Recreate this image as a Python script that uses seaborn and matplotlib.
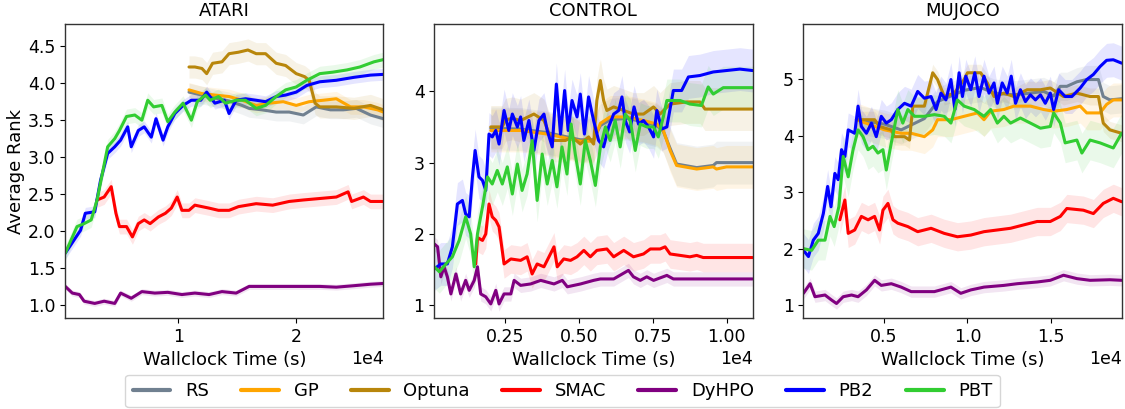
import matplotlib
matplotlib.use("Agg")
import matplotlib.pyplot as plt
from matplotlib.ticker import MultipleLocator
import numpy as np
import pandas as pd
import seaborn as sns

# ---------------------------------------------------------------------------
# Average rank over wallclock time (time in units of 1e4 s)
# ---------------------------------------------------------------------------
methods = ["RS", "GP", "Optuna", "SMAC", "DyHPO", "PB2", "PBT"]
colors = ["#708090", "orange", "darkgoldenrod", "red", "purple", "blue", "limegreen"]
panel_titles = ["ATARI", "CONTROL", "MUJOCO"]

# ---- ATARI ----
atari_rs_t = [1.09, 1.20, 1.31, 1.43, 1.54, 1.60, 1.71, 1.83, 1.94, 2.06, 2.17, 2.29, 2.40, 2.51, 2.63, 2.74]
atari_rs_y = [3.88, 3.84, 3.80, 3.76, 3.70, 3.66, 3.64, 3.61, 3.61, 3.57, 3.68, 3.64, 3.64, 3.66, 3.57, 3.52]
atari_gp_t = [1.09, 1.20, 1.31, 1.43, 1.54, 1.66, 1.77, 1.89, 2.00, 2.11, 2.23, 2.34, 2.46, 2.57, 2.69, 2.74]
atari_gp_y = [3.91, 3.86, 3.84, 3.82, 3.77, 3.70, 3.73, 3.75, 3.70, 3.75, 3.77, 3.79, 3.68, 3.68, 3.64, 3.61]
atari_optuna_t = [1.09, 1.14, 1.20, 1.24, 1.29, 1.37, 1.43, 1.51, 1.59, 1.66, 1.74, 1.83, 1.91, 2.00, 2.07,
                  2.11, 2.16, 2.20, 2.34, 2.49, 2.63, 2.74]
atari_optuna_y = [4.22, 4.22, 4.20, 4.13, 4.27, 4.29, 4.40, 4.42, 4.45, 4.40, 4.40, 4.27, 4.24, 4.13, 4.09,
                  4.04, 3.73, 3.68, 3.68, 3.66, 3.70, 3.64]
atari_smac_t = [0.31, 0.37, 0.43, 0.47, 0.50, 0.56, 0.61, 0.66, 0.71, 0.76, 0.83, 0.89, 0.94, 0.99, 1.03,
                1.09, 1.14, 1.20, 1.26, 1.34, 1.43, 1.51, 1.66, 1.80, 1.94, 2.06, 2.20, 2.34, 2.44, 2.47,
                2.57, 2.63, 2.74]
atari_smac_y = [2.42, 2.46, 2.60, 2.24, 2.06, 2.06, 1.92, 2.10, 2.15, 2.10, 2.19, 2.24, 2.31, 2.46, 2.28,
                2.28, 2.35, 2.33, 2.31, 2.28, 2.28, 2.33, 2.37, 2.35, 2.40, 2.42, 2.44, 2.46, 2.53, 2.40,
                2.46, 2.40, 2.40]
atari_dyhpo_t = [0.04, 0.10, 0.16, 0.20, 0.29, 0.37, 0.46, 0.51, 0.60, 0.69, 0.80, 0.91, 1.03, 1.14, 1.26,
                 1.37, 1.49, 1.60, 1.77, 1.91, 2.06, 2.20, 2.34, 2.49, 2.63, 2.74]
atari_dyhpo_y = [1.25, 1.16, 1.14, 1.05, 1.02, 1.05, 1.02, 1.16, 1.09, 1.18, 1.16, 1.17, 1.14, 1.16, 1.14,
                 1.18, 1.16, 1.25, 1.25, 1.25, 1.25, 1.25, 1.24, 1.26, 1.28, 1.29]
atari_pb2_t = [0.04, 0.17, 0.21, 0.29, 0.34, 0.40, 0.46, 0.51, 0.57, 0.60, 0.66, 0.71, 0.77, 0.81, 0.87,
               0.91, 0.97, 1.04, 1.11, 1.19, 1.24, 1.31, 1.39, 1.43, 1.49, 1.57, 1.66, 1.74, 1.83, 1.91,
               2.00, 2.09, 2.20, 2.34, 2.49, 2.63, 2.74]
atari_pb2_y = [1.70, 2.01, 2.24, 2.26, 2.69, 3.05, 3.14, 3.23, 3.41, 3.14, 3.36, 3.41, 3.27, 3.52, 3.23,
               3.41, 3.59, 3.70, 3.77, 3.77, 3.88, 3.73, 3.77, 3.59, 3.77, 3.79, 3.77, 3.75, 3.82, 3.84,
               3.88, 3.97, 4.02, 4.04, 4.08, 4.11, 4.12]
atari_pbt_t = [0.04, 0.14, 0.20, 0.26, 0.31, 0.36, 0.40, 0.46, 0.50, 0.56, 0.63, 0.69, 0.74, 0.79, 0.86,
               0.91, 0.97, 1.04, 1.11, 1.16, 1.23, 1.27, 1.34, 1.40, 1.49, 1.57, 1.66, 1.74, 1.83, 1.91,
               2.00, 2.09, 2.20, 2.31, 2.43, 2.54, 2.66, 2.74]
atari_pbt_y = [1.70, 2.06, 2.10, 2.15, 2.42, 2.82, 3.14, 3.25, 3.36, 3.55, 3.57, 3.50, 3.77, 3.68, 3.70,
               3.48, 3.61, 3.73, 3.50, 3.75, 3.84, 3.77, 3.82, 3.73, 3.77, 3.77, 3.66, 3.70, 3.82, 3.91,
               3.95, 4.04, 4.13, 4.15, 4.18, 4.22, 4.29, 4.32]

# ---- CONTROL ----
control_rs_t = [0.202, 0.303, 0.393, 0.505, 0.550, 0.573, 0.606, 0.663, 0.719, 0.764, 0.786, 0.809, 0.831,
                0.899, 0.955, 0.966, 1.000, 1.088]
control_rs_y = [3.48, 3.47, 3.42, 3.32, 3.32, 3.52, 3.60, 3.62, 3.57, 3.52, 3.44, 3.20, 2.98,
                2.93, 2.96, 3.00, 3.00, 3.00]
control_gp_t = [0.202, 0.303, 0.393, 0.505, 0.550, 0.573, 0.606, 0.663, 0.719, 0.764, 0.786, 0.809, 0.831,
                0.899, 0.955, 0.966, 1.000, 1.088]
control_gp_y = [3.45, 3.45, 3.40, 3.30, 3.30, 3.55, 3.64, 3.64, 3.59, 3.54, 3.45, 3.17, 2.96,
                2.91, 2.94, 2.91, 2.94, 2.94]
control_optuna_t = [0.202, 0.241, 0.252, 0.275, 0.303, 0.348, 0.382, 0.404, 0.416, 0.455, 0.477, 0.505,
                    0.533, 0.550, 0.561, 0.573, 0.584, 0.595, 0.618, 0.652, 0.685, 0.719, 0.753, 0.775,
                    0.809, 0.865, 0.910, 0.927, 1.000, 1.088]
control_optuna_y = [3.50, 3.50, 3.60, 3.62, 3.59, 3.68, 3.59, 3.36, 3.31, 3.31, 3.36, 3.26,
                    3.36, 3.26, 3.87, 4.15, 3.87, 3.73, 3.78, 3.73, 3.68, 3.68, 3.78, 3.68,
                    3.82, 3.85, 3.85, 3.75, 3.75, 3.75]
control_smac_t = [0.151, 0.157, 0.174, 0.185, 0.196, 0.207, 0.219, 0.230, 0.247, 0.270, 0.303, 0.325,
                  0.342, 0.359, 0.382, 0.399, 0.416, 0.427, 0.449, 0.472, 0.494, 0.517, 0.539, 0.561,
                  0.595, 0.618, 0.652, 0.685, 0.719, 0.742, 0.775, 0.792, 0.809, 0.843, 0.876, 0.899,
                  0.921, 1.088]
control_smac_y = [1.58, 1.95, 1.91, 2.00, 2.42, 2.24, 2.19, 2.10, 1.58, 1.65, 1.63, 1.68,
                  1.44, 1.58, 1.54, 1.68, 1.82, 1.54, 1.65, 1.63, 1.68, 1.77, 1.68, 1.77,
                  1.79, 1.68, 1.77, 1.68, 1.72, 1.79, 1.79, 1.82, 1.72, 1.70, 1.68, 1.70,
                  1.67, 1.67]
control_dyhpo_t = [0.011, 0.022, 0.033, 0.044, 0.055, 0.067, 0.084, 0.100, 0.117, 0.129, 0.146, 0.157,
                   0.168, 0.185, 0.202, 0.219, 0.230, 0.247, 0.270, 0.281, 0.303, 0.337, 0.371, 0.416,
                   0.444, 0.461, 0.506, 0.550, 0.573, 0.618, 0.668, 0.685, 0.708, 0.730, 0.753, 0.798,
                   0.820, 1.088]
control_dyhpo_y = [1.86, 1.82, 1.40, 1.54, 1.40, 1.16, 1.44, 1.16, 1.35, 1.21, 1.35, 1.54,
                   1.16, 1.12, 1.02, 1.21, 1.02, 1.16, 1.16, 1.35, 1.28, 1.30, 1.35, 1.30,
                   1.35, 1.26, 1.30, 1.35, 1.37, 1.37, 1.49, 1.40, 1.35, 1.40, 1.35, 1.42,
                   1.37, 1.37]
control_pb2_t = [0.011, 0.033, 0.055, 0.072, 0.089, 0.106, 0.117, 0.129, 0.140, 0.149, 0.162, 0.174,
                 0.185, 0.196, 0.207, 0.219, 0.230, 0.247, 0.263, 0.275, 0.292, 0.303, 0.314, 0.331,
                 0.348, 0.365, 0.382, 0.393, 0.410, 0.424, 0.438, 0.452, 0.464, 0.477, 0.494, 0.505,
                 0.519, 0.533, 0.550, 0.567, 0.584, 0.601, 0.618, 0.635, 0.646, 0.657, 0.672, 0.687,
                 0.702, 0.719, 0.736, 0.753, 0.764, 0.781, 0.798, 0.820, 0.848, 0.871, 0.910, 0.955,
                 1.000, 1.045, 1.088]
control_pb2_y = [1.51, 1.58, 1.58, 1.82, 2.42, 2.47, 2.28, 2.24, 2.80, 3.17, 2.80, 2.75,
                 2.61, 3.40, 3.36, 3.45, 3.26, 3.73, 3.45, 3.68, 3.50, 3.64, 3.31, 3.59,
                 3.17, 3.59, 3.68, 3.45, 3.22, 4.10, 3.40, 4.01, 3.45, 3.87, 3.64, 3.96,
                 3.40, 3.92, 3.59, 3.31, 3.22, 3.50, 3.68, 3.73, 3.92, 3.59, 3.43, 3.78,
                 3.54, 3.59, 3.50, 3.36, 3.73, 3.47, 3.50, 4.01, 4.01, 4.20, 4.22, 4.27,
                 4.29, 4.31, 4.29]
control_pbt_t = [0.011, 0.028, 0.050, 0.072, 0.095, 0.117, 0.134, 0.146, 0.157, 0.174, 0.191, 0.207,
                 0.224, 0.241, 0.258, 0.275, 0.292, 0.308, 0.325, 0.342, 0.359, 0.376, 0.393, 0.410,
                 0.426, 0.443, 0.460, 0.474, 0.488, 0.505, 0.522, 0.539, 0.556, 0.573, 0.590, 0.606,
                 0.623, 0.640, 0.657, 0.674, 0.691, 0.708, 0.730, 0.753, 0.769, 0.786, 0.798, 0.843,
                 0.876, 0.915, 0.938, 0.955, 0.989, 1.045, 1.088]
control_pbt_y = [1.54, 1.47, 1.58, 1.68, 1.91, 2.24, 2.00, 1.54, 2.00, 2.38, 2.80, 2.70,
                 2.89, 2.70, 2.94, 2.56, 2.98, 2.61, 2.84, 3.31, 2.47, 3.12, 2.70, 3.03,
                 2.66, 3.22, 2.84, 3.54, 3.12, 2.70, 3.31, 3.03, 2.68, 3.22, 3.50, 3.31,
                 3.59, 3.22, 3.68, 3.59, 3.17, 3.54, 3.50, 3.50, 3.36, 3.64, 3.87, 3.87,
                 3.82, 3.80, 4.06, 3.96, 4.05, 4.05, 4.05]

# ---- MUJOCO ----
mujoco_rs_t = [0.335, 0.504, 0.603, 0.742, 0.821, 0.901, 0.980, 1.079, 1.159, 1.278, 1.377, 1.456,
               1.516, 1.556, 1.595, 1.655, 1.714, 1.784, 1.813, 1.853, 1.923]
mujoco_rs_y = [4.28, 4.20, 4.10, 4.30, 4.60, 4.70, 4.80, 4.85, 4.75, 4.72, 4.75, 4.78,
               4.70, 4.87, 4.87, 4.95, 4.99, 4.99, 4.69, 4.63, 4.65]
mujoco_gp_t = [0.335, 0.504, 0.603, 0.663, 0.742, 0.792, 0.821, 0.901, 0.980, 1.060, 1.099, 1.139,
               1.218, 1.278, 1.377, 1.456, 1.516, 1.595, 1.675, 1.714, 1.794, 1.833, 1.873, 1.923]
mujoco_gp_y = [4.28, 4.10, 4.04, 4.04, 3.98, 4.10, 4.28, 4.28, 4.34, 4.40, 4.28, 4.43,
               4.46, 4.52, 4.52, 4.46, 4.43, 4.46, 4.52, 4.40, 4.40, 4.55, 4.63, 4.63]
mujoco_optuna_t = [0.335, 0.444, 0.474, 0.544, 0.563, 0.623, 0.653, 0.673, 0.742, 0.792, 0.821, 0.861,
                   0.921, 0.980, 1.000, 1.079, 1.119, 1.159, 1.218, 1.278, 1.357, 1.437, 1.496, 1.575,
                   1.655, 1.734, 1.784, 1.813, 1.853, 1.923]
mujoco_optuna_y = [4.28, 4.28, 4.16, 4.10, 3.98, 3.98, 3.92, 4.52, 4.52, 5.11, 4.99, 4.69,
                   4.75, 4.99, 5.11, 5.11, 4.93, 4.69, 4.75, 4.69, 4.81, 4.81, 4.84, 4.69,
                   4.75, 4.69, 4.69, 4.22, 4.10, 4.04]
mujoco_smac_t = [0.236, 0.266, 0.286, 0.325, 0.365, 0.405, 0.444, 0.474, 0.494, 0.524, 0.554, 0.583,
                 0.643, 0.702, 0.782, 0.861, 0.940, 1.020, 1.099, 1.179, 1.258, 1.337, 1.417, 1.496,
                 1.556, 1.595, 1.694, 1.754, 1.813, 1.873, 1.923]
mujoco_smac_y = [2.51, 2.86, 2.27, 2.33, 2.57, 2.51, 2.57, 2.33, 2.68, 2.80, 2.51, 2.45,
                 2.39, 2.30, 2.36, 2.27, 2.21, 2.24, 2.30, 2.33, 2.36, 2.42, 2.48, 2.48,
                 2.57, 2.71, 2.68, 2.62, 2.80, 2.89, 2.83]
mujoco_dyhpo_t = [0.018, 0.058, 0.087, 0.147, 0.187, 0.216, 0.256, 0.306, 0.345, 0.395, 0.444, 0.484,
                  0.544, 0.603, 0.663, 0.802, 0.901, 0.960, 1.020, 1.099, 1.218, 1.298, 1.417, 1.496,
                  1.575, 1.655, 1.734, 1.853, 1.923]
mujoco_dyhpo_y = [1.21, 1.38, 1.15, 1.18, 1.09, 1.03, 1.15, 1.18, 1.15, 1.27, 1.44, 1.35,
                  1.38, 1.32, 1.24, 1.24, 1.32, 1.21, 1.27, 1.32, 1.35, 1.38, 1.41, 1.44,
                  1.53, 1.47, 1.44, 1.45, 1.44]
mujoco_pb2_t = [0.018, 0.048, 0.077, 0.107, 0.137, 0.163, 0.183, 0.206, 0.226, 0.246, 0.266, 0.286,
                0.325, 0.345, 0.365, 0.395, 0.425, 0.454, 0.484, 0.514, 0.544, 0.583, 0.623, 0.663,
                0.702, 0.742, 0.782, 0.812, 0.841, 0.871, 0.901, 0.925, 0.950, 0.970, 0.990, 1.020,
                1.044, 1.069, 1.099, 1.129, 1.159, 1.179, 1.208, 1.238, 1.262, 1.288, 1.317, 1.347,
                1.377, 1.407, 1.437, 1.466, 1.496, 1.516, 1.546, 1.585, 1.625, 1.675, 1.714, 1.754,
                1.794, 1.833, 1.873, 1.923]
mujoco_pb2_y = [1.97, 1.86, 2.15, 2.27, 2.62, 3.10, 2.74, 3.33, 3.22, 3.75, 3.63, 4.10,
                4.04, 4.52, 4.16, 4.04, 4.22, 3.98, 4.34, 4.22, 4.28, 4.46, 4.57, 4.52,
                4.78, 4.66, 4.69, 4.46, 4.75, 4.63, 4.99, 4.46, 5.11, 4.69, 5.05, 4.81,
                5.11, 4.69, 5.05, 4.75, 4.93, 4.57, 4.93, 4.75, 5.05, 4.57, 4.81, 4.60,
                4.72, 4.63, 4.72, 4.57, 4.75, 4.46, 4.81, 4.69, 4.69, 4.84, 4.99, 5.08,
                5.22, 5.33, 5.34, 5.28]
mujoco_pbt_t = [0.018, 0.067, 0.107, 0.147, 0.177, 0.202, 0.230, 0.256, 0.286, 0.315, 0.345, 0.375,
                0.405, 0.434, 0.464, 0.494, 0.514, 0.544, 0.583, 0.613, 0.643, 0.683, 0.742, 0.802,
                0.861, 0.901, 0.940, 0.980, 1.040, 1.099, 1.139, 1.179, 1.218, 1.258, 1.317, 1.377,
                1.437, 1.496, 1.516, 1.556, 1.585, 1.655, 1.685, 1.734, 1.794, 1.873, 1.923]
mujoco_pbt_y = [2.00, 1.97, 2.15, 2.15, 2.57, 2.39, 2.74, 3.63, 3.27, 3.75, 4.10, 3.98,
                3.75, 3.81, 3.69, 3.75, 3.39, 3.87, 4.46, 4.22, 4.46, 4.34, 4.34, 4.37,
                4.34, 4.22, 4.63, 4.52, 4.46, 4.34, 4.46, 4.22, 4.34, 4.22, 4.31, 4.22,
                4.13, 4.16, 4.40, 4.22, 3.87, 3.92, 3.69, 3.92, 3.87, 3.78, 4.04]

# Half-width of the shaded band around each mean curve (RS, GP, Optuna, SMAC, DyHPO, PB2, PBT)
atari_band = [0.12, 0.10, 0.15, 0.10, 0.04, 0.08, 0.10]
control_band = [0.30, 0.30, 0.30, 0.20, 0.10, 0.30, 0.30]
mujoco_band = [0.25, 0.30, 0.15, 0.25, 0.10, 0.30, 0.35]

panels = [
    ([(atari_rs_t, atari_rs_y), (atari_gp_t, atari_gp_y), (atari_optuna_t, atari_optuna_y),
      (atari_smac_t, atari_smac_y), (atari_dyhpo_t, atari_dyhpo_y), (atari_pb2_t, atari_pb2_y),
      (atari_pbt_t, atari_pbt_y)], atari_band),
    ([(control_rs_t, control_rs_y), (control_gp_t, control_gp_y), (control_optuna_t, control_optuna_y),
      (control_smac_t, control_smac_y), (control_dyhpo_t, control_dyhpo_y), (control_pb2_t, control_pb2_y),
      (control_pbt_t, control_pbt_y)], control_band),
    ([(mujoco_rs_t, mujoco_rs_y), (mujoco_gp_t, mujoco_gp_y), (mujoco_optuna_t, mujoco_optuna_y),
      (mujoco_smac_t, mujoco_smac_y), (mujoco_dyhpo_t, mujoco_dyhpo_y), (mujoco_pb2_t, mujoco_pb2_y),
      (mujoco_pbt_t, mujoco_pbt_y)], mujoco_band),
]

y_limits = [(0.82, 4.80), (0.82, 4.94), (0.77, 5.97)]
y_steps = [0.5, 1.0, 1.0]
x_steps = [1e4, 2500, 5000]

sns.set_style("ticks")
plt.rcParams.update({
    "font.family": ["DejaVu Sans"],
    "font.size": 13,
    "axes.titlesize": 13,
    "axes.labelsize": 13,
    "xtick.labelsize": 12.5,
    "ytick.labelsize": 12.5,
    "legend.fontsize": 13,
    "axes.edgecolor": "#333333",
    "axes.linewidth": 1.0,
    "xtick.major.size": 3.5,
    "ytick.major.size": 3.5,
    "xtick.color": "black",
    "ytick.color": "black",
    "text.color": "black",
    "axes.labelcolor": "black",
})

fig, axes = plt.subplots(1, 3, figsize=(11.25, 4.09), dpi=100)
fig.subplots_adjust(left=0.058, right=0.997, top=0.941, bottom=0.222, wspace=0.16)

palette = dict(zip(methods, colors))

for k, (ax, (series, band)) in enumerate(zip(axes, panels)):
    frames = []
    for name, (t, y) in zip(methods, series):
        frames.append(pd.DataFrame({"time": np.asarray(t) * 1e4, "rank": y, "method": name}))
    df = pd.concat(frames, ignore_index=True)

    for name, half in zip(methods, band):
        sub = df[df["method"] == name]
        ax.fill_between(sub["time"], sub["rank"] - half, sub["rank"] + half,
                        color=palette[name], alpha=0.1, linewidth=0)

    sns.lineplot(data=df, x="time", y="rank", hue="method", hue_order=methods,
                 palette=palette, estimator=None, sort=False, linewidth=2.2,
                 legend=False, ax=ax)

    ax.set_xlim(df["time"].min(), df["time"].max())
    ax.set_ylim(*y_limits[k])
    ax.yaxis.set_major_locator(MultipleLocator(y_steps[k]))
    ax.xaxis.set_major_locator(MultipleLocator(x_steps[k]))
    ax.ticklabel_format(axis="x", style="sci", scilimits=(0, 0))
    ax.set_title(panel_titles[k])
    ax.set_xlabel("Wallclock Time (s)")
    if k == 0:
        ax.set_ylabel("Average Rank", labelpad=2)
    else:
        ax.set_ylabel("")
    ax.tick_params(direction="out")
    for side in ["top", "right", "left", "bottom"]:
        ax.spines[side].set_visible(True)

handles = [plt.Line2D([0], [0], color=c, lw=3.0) for c in colors]
fig.legend(handles, methods, loc="lower center", bbox_to_anchor=(0.5, 0.0), ncol=7,
           frameon=True, handlelength=2.1, columnspacing=1.8, borderaxespad=0.1,
           edgecolor="#cccccc")

fig.savefig("out.png", dpi=100)
